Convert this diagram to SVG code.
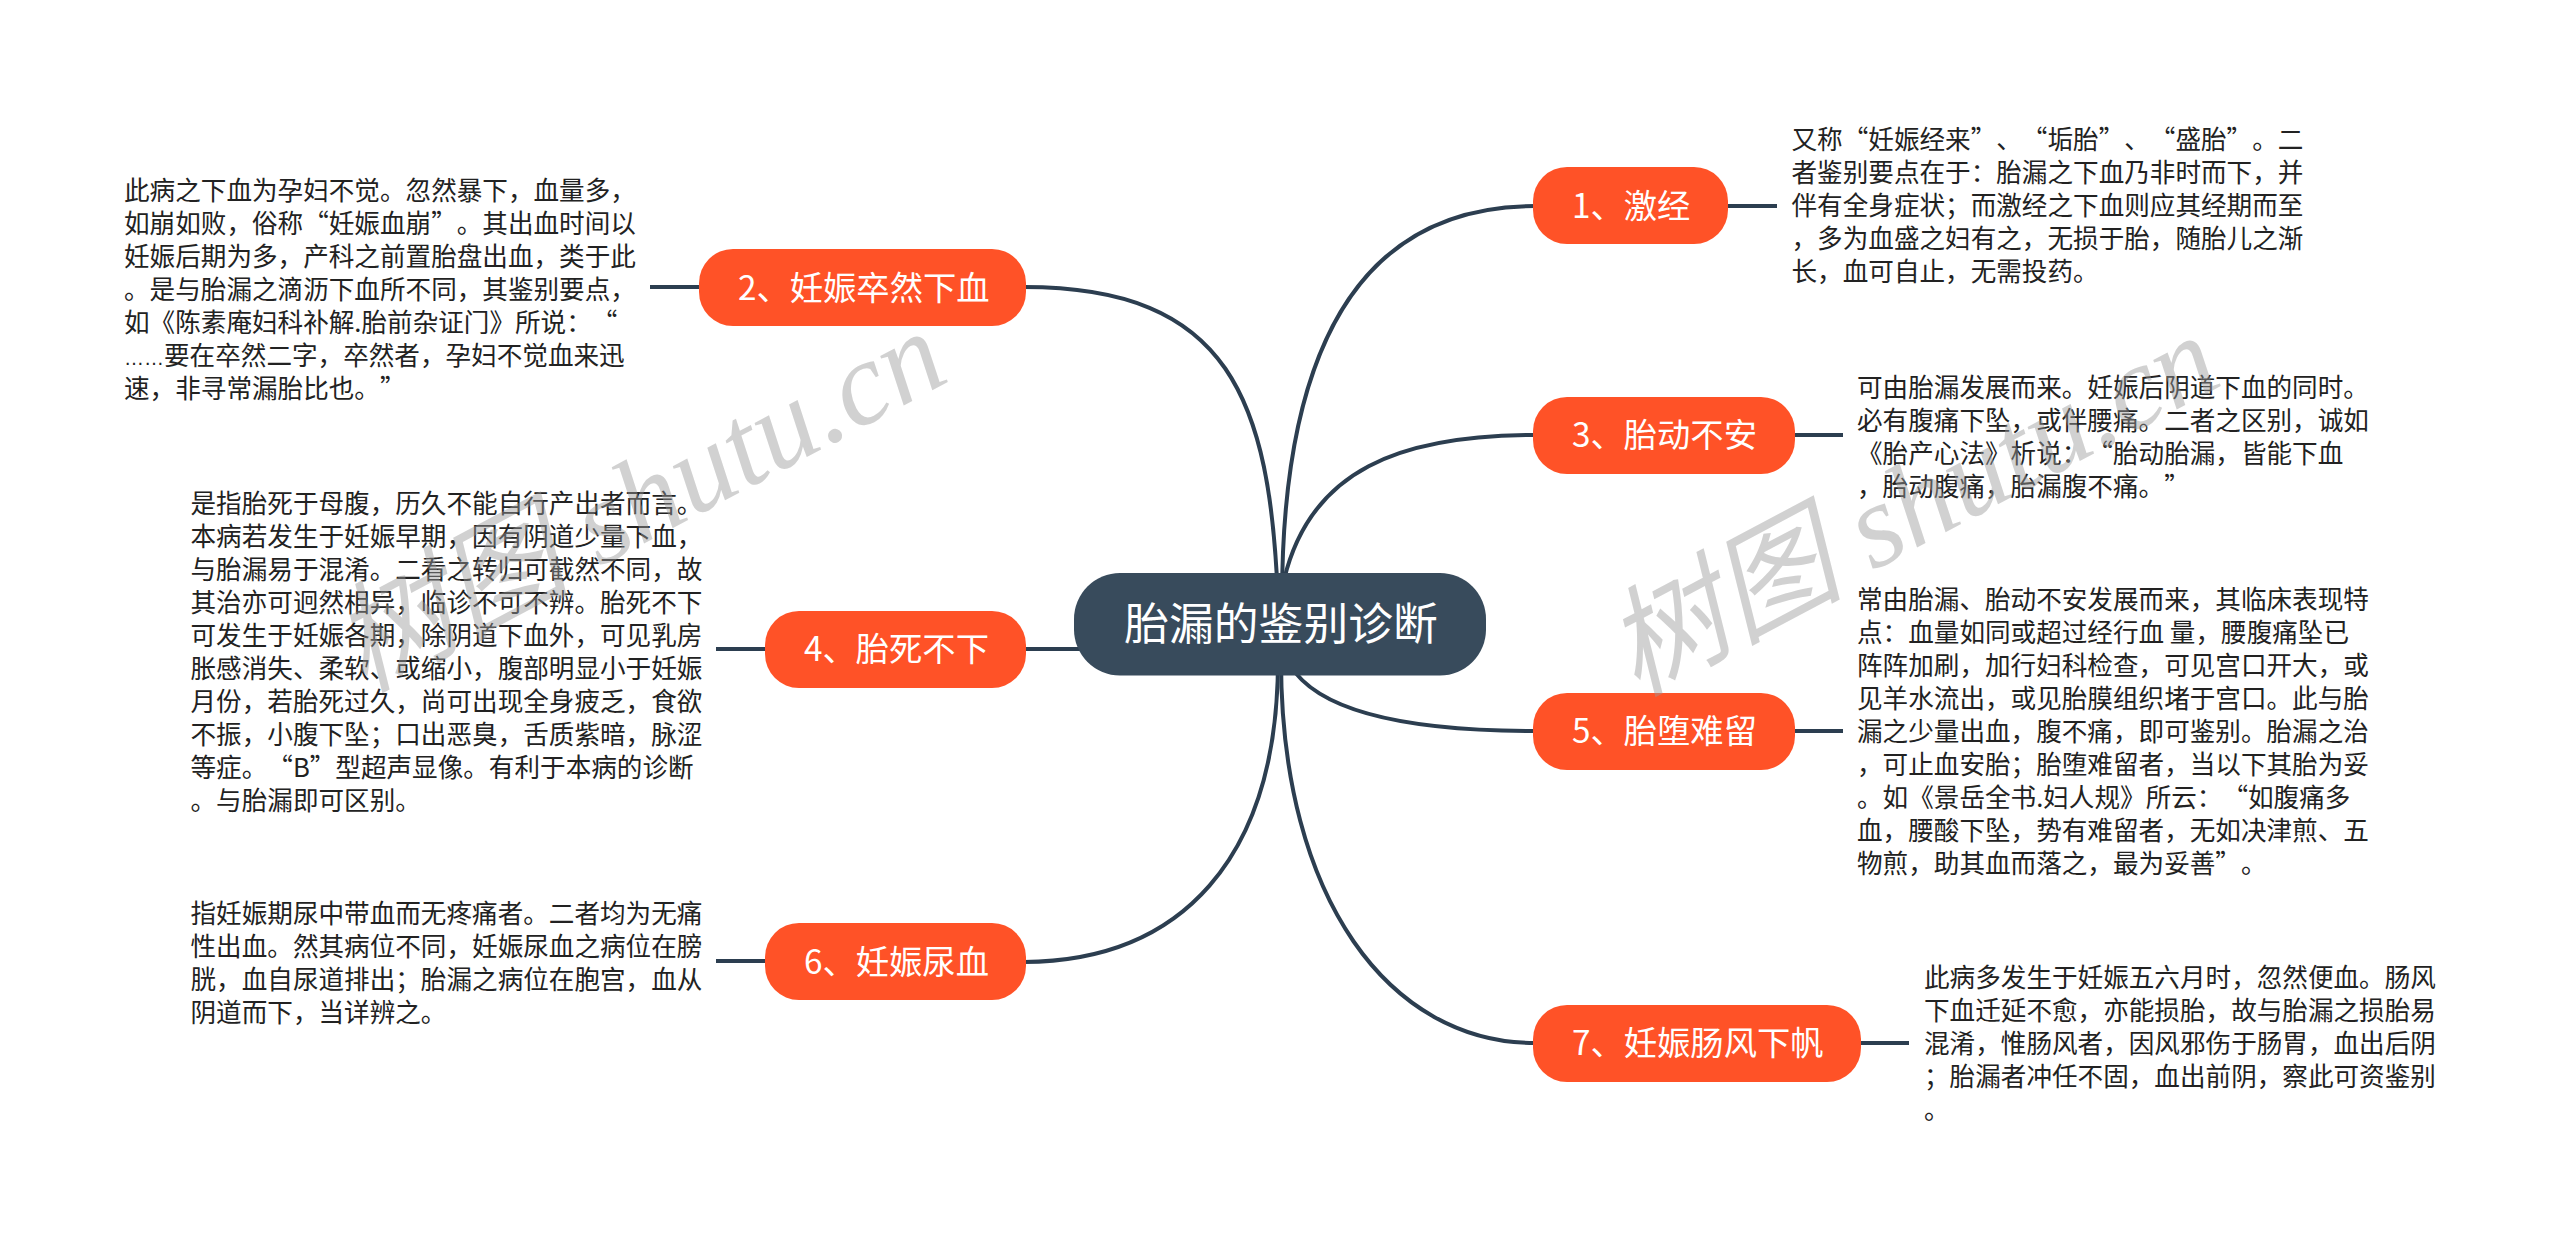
<svg xmlns="http://www.w3.org/2000/svg" width="2560" height="1249" viewBox="0 0 2560 1249" lang="zh-Hans">
<style>
text{font-family:"Noto Sans CJK SC","Noto Sans",sans-serif;text-spacing-trim:space-all;font-kerning:none}
.c{fill:none;stroke:#2c3e50;stroke-width:4}
.n{fill:#ff5227}
.nt{fill:#fff;font-size:33.3px}
.d{fill:#222;font-size:25.6px}
.wm{fill:#999;fill-opacity:.45;font-family:"Liberation Serif","Noto Sans CJK SC",serif;font-style:italic;font-size:119px}
.el{font-family:"Liberation Sans",sans-serif;font-size:20px}
</style>
<rect width="2560" height="1249" fill="#fff"/>
<g id="connectors">
<path class="c" d="M1282 600C1282 400 1330 206 1535 206"/>
<path class="c" d="M1284 580C1310 470 1400 435 1535 435"/>
<path class="c" d="M1290 665C1320 715 1420 731 1535 731"/>
<path class="c" d="M1281 660C1281 900 1390 1043 1535 1043"/>
<path class="c" d="M1278 600C1270 400 1230 287 1024 287"/>
<path class="c" d="M1080 649H1024"/>
<path class="c" d="M1278 660C1278 860 1180 961 1024 962"/>
<path class="c" d="M1726 206H1777"/><path class="c" d="M1793 435H1843"/><path class="c" d="M1793 731H1843"/><path class="c" d="M1859 1043H1909"/>
<path class="c" d="M701 287H650"/><path class="c" d="M767 649H716"/><path class="c" d="M767 961H716"/>
</g>
<g id="root"><rect x="1074" y="573" width="412" height="102.500" rx="46" fill="#384b5c"/><text x="1281" y="640" fill="#fff" font-size="44.800" text-anchor="middle">胎漏的鉴别诊断</text></g>
<g id="n1"><rect class="n" x="1533" y="167" width="195" height="77" rx="34"/><text class="nt" x="1572" y="218">1、激经</text>
<text class="d"><tspan x="1791.500" y="149">又称“妊娠经来”、“垢胎”、“盛胎”。二</tspan><tspan x="1791.500" y="182">者鉴别要点在于&#65306;胎漏之下血乃非时而下&#65292;并</tspan><tspan x="1791.500" y="215">伴有全身症状&#65307;而激经之下血则应其经期而至</tspan><tspan x="1791.500" y="248">&#65292;多为血盛之妇有之&#65292;无损于胎&#65292;随胎儿之渐</tspan><tspan x="1791.500" y="281">长&#65292;血可自止&#65292;无需投药。</tspan></text></g>
<g id="n3"><rect class="n" x="1533" y="397" width="262" height="77" rx="34"/><text class="nt" x="1572" y="447">3、胎动不安</text>
<text class="d"><tspan x="1857" y="396.500">可由胎漏发展而来。妊娠后阴道下血的同时。</tspan><tspan x="1857" y="429.500">必有腹痛下坠&#65292;或伴腰痛。二者之区别&#65292;诚如</tspan><tspan x="1857" y="462.500">《胎产心法》析说&#65306;“胎动胎漏&#65292;皆能下血</tspan><tspan x="1857" y="495.500">&#65292;胎动腹痛&#65292;胎漏腹不痛。”</tspan></text></g>
<g id="n5"><rect class="n" x="1533" y="693" width="262" height="77" rx="34"/><text class="nt" x="1572" y="743">5、胎堕难留</text>
<text class="d"><tspan x="1857" y="609">常由胎漏、胎动不安发展而来&#65292;其临床表现特</tspan><tspan x="1857" y="642">点&#65306;血量如同或超过经行血 量&#65292;腰腹痛坠已</tspan><tspan x="1857" y="675">阵阵加刷&#65292;加行妇科检查&#65292;可见宫口开大&#65292;或</tspan><tspan x="1857" y="708">见羊水流出&#65292;或见胎膜组织堵于宫口。此与胎</tspan><tspan x="1857" y="741">漏之少量出血&#65292;腹不痛&#65292;即可鉴别。胎漏之治</tspan><tspan x="1857" y="774">&#65292;可止血安胎&#65307;胎堕难留者&#65292;当以下其胎为妥</tspan><tspan x="1857" y="807">。如《景岳全书.妇人规》所云&#65306;“如腹痛多</tspan><tspan x="1857" y="840">血&#65292;腰酸下坠&#65292;势有难留者&#65292;无如决津煎、五</tspan><tspan x="1857" y="873">物煎&#65292;助其血而落之&#65292;最为妥善”。</tspan></text></g>
<g id="n7"><rect class="n" x="1533" y="1005" width="328" height="77" rx="34"/><text class="nt" x="1572" y="1055">7、妊娠肠风下帆</text>
<text class="d"><tspan x="1924" y="987">此病多发生于妊娠五六月时&#65292;忽然便血。肠风</tspan><tspan x="1924" y="1020">下血迁延不愈&#65292;亦能损胎&#65292;故与胎漏之损胎易</tspan><tspan x="1924" y="1053">混淆&#65292;惟肠风者&#65292;因风邪伤于肠胃&#65292;血出后阴</tspan><tspan x="1924" y="1086">&#65307;胎漏者冲任不固&#65292;血出前阴&#65292;察此可资鉴别</tspan><tspan x="1924" y="1119">。</tspan></text></g>
<g id="n2"><rect class="n" x="699" y="249" width="327" height="77" rx="34"/><text class="nt" x="738" y="299.500">2、妊娠卒然下血</text>
<text class="d"><tspan x="124" y="200">此病之下血为孕妇不觉。忽然暴下&#65292;血量多&#65292;</tspan><tspan x="124" y="233">如崩如败&#65292;俗称“妊娠血崩”。其出血时间以</tspan><tspan x="124" y="266">妊娠后期为多&#65292;产科之前置胎盘出血&#65292;类于此</tspan><tspan x="124" y="299">。是与胎漏之滴沥下血所不同&#65292;其鉴别要点&#65292;</tspan><tspan x="124" y="332">如《陈素庵妇科补解.胎前杂证门》所说&#65306;“</tspan><tspan x="124" y="365" class="el">……</tspan><tspan>要在卒然二字&#65292;卒然者&#65292;孕妇不觉血来迅</tspan><tspan x="124" y="398">速&#65292;非寻常漏胎比也。”</tspan></text></g>
<g id="n4"><rect class="n" x="765" y="611" width="261" height="77" rx="34"/><text class="nt" x="804" y="661">4、胎死不下</text>
<text class="d"><tspan x="190.500" y="512.500">是指胎死于母腹&#65292;历久不能自行产出者而言。</tspan><tspan x="190.500" y="545.500">本病若发生于妊娠早期&#65292;因有阴道少量下血&#65292;</tspan><tspan x="190.500" y="578.500">与胎漏易于混淆。二看之转归可截然不同&#65292;故</tspan><tspan x="190.500" y="611.500">其治亦可迥然相异&#65292;临诊不可不辨。胎死不下</tspan><tspan x="190.500" y="644.500">可发生于妊娠各期&#65292;除阴道下血外&#65292;可见乳房</tspan><tspan x="190.500" y="677.500">胀感消失、柔软、或缩小&#65292;腹部明显小于妊娠</tspan><tspan x="190.500" y="710.500">月份&#65292;若胎死过久&#65292;尚可出现全身疲乏&#65292;食欲</tspan><tspan x="190.500" y="743.500">不振&#65292;小腹下坠&#65307;口出恶臭&#65292;舌质紫暗&#65292;脉涩</tspan><tspan x="190.500" y="776.500">等症。“B”型超声显像。有利于本病的诊断</tspan><tspan x="190.500" y="809.500">。与胎漏即可区别。</tspan></text></g>
<g id="n6"><rect class="n" x="765" y="923" width="261" height="77" rx="34"/><text class="nt" x="804" y="973.500">6、妊娠尿血</text>
<text class="d"><tspan x="190.500" y="923">指妊娠期尿中带血而无疼痛者。二者均为无痛</tspan><tspan x="190.500" y="956">性出血。然其病位不同&#65292;妊娠尿血之病位在膀</tspan><tspan x="190.500" y="989">胱&#65292;血自尿道排出&#65307;胎漏之病位在胞宫&#65292;血从</tspan><tspan x="190.500" y="1022">阴道而下&#65292;当详辨之。</tspan></text></g>
<g id="watermarks"><text class="wm" transform="translate(363 693) rotate(-28)">树图 shutu.cn</text><text class="wm" transform="translate(1636 697) rotate(-28)">树图 shutu.cn</text></g>
</svg>
